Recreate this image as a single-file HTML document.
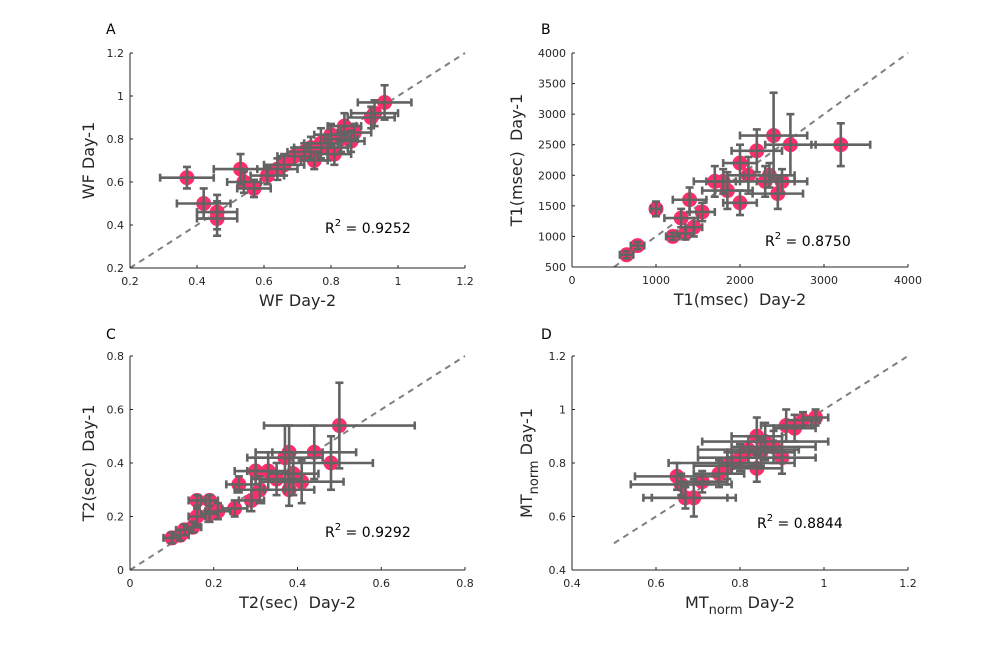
<!DOCTYPE html>
<html><head><meta charset="utf-8">
<style>
body{margin:0;background:#fff;}
svg{font-family:"DejaVu Sans","Liberation Sans",sans-serif;}
</style></head>
<body>
<svg id="fig" width="1003" height="640" viewBox="0 0 1003 640"></svg>
<script>
// Panel A data
const aX=[0.37,0.42,0.46,0.46,0.53,0.54,0.57,0.61,0.64,0.66,0.69,0.72,0.74,0.75,0.77,0.79,0.80,0.81,0.83,0.84,0.86,0.87,0.92,0.93,0.96];
const aY=[0.62,0.50,0.46,0.43,0.66,0.60,0.57,0.63,0.66,0.68,0.72,0.74,0.76,0.70,0.78,0.76,0.82,0.73,0.80,0.86,0.79,0.83,0.90,0.92,0.97];
const aXe=[0.08,0.08,0.06,0.06,0.08,0.05,0.05,0.05,0.06,0.06,0.05,0.05,0.05,0.04,0.05,0.06,0.05,0.05,0.05,0.05,0.04,0.05,0.07,0.07,0.08];
const aYe=[0.05,0.07,0.08,0.08,0.07,0.05,0.04,0.04,0.05,0.05,0.04,0.04,0.05,0.04,0.07,0.06,0.05,0.05,0.06,0.06,0.05,0.04,0.05,0.06,0.08];
// Panel B data
const bX=[650,780,1000,1200,1350,1450,1300,1400,1550,1700,1850,2000,2100,2200,2300,2350,2450,2500,2400,2600,3200,1800,2000];
const bY=[700,850,1450,1000,1050,1150,1300,1600,1400,1900,1750,1550,2000,2400,1900,2000,1700,1900,2650,2500,2500,1900,2200];
const bXe=[80,80,60,80,100,100,200,200,150,250,300,200,250,300,350,300,300,300,400,300,350,200,200];
const bYe=[60,60,120,60,100,150,150,200,150,250,300,200,300,350,250,200,250,200,700,500,350,200,300];
// Panel C data
const cX=[0.10,0.12,0.13,0.15,0.16,0.16,0.19,0.19,0.21,0.25,0.26,0.29,0.30,0.31,0.33,0.35,0.37,0.38,0.38,0.39,0.44,0.48,0.50,0.41];
const cY=[0.12,0.13,0.15,0.16,0.20,0.26,0.26,0.21,0.22,0.23,0.32,0.26,0.37,0.30,0.37,0.34,0.42,0.44,0.30,0.36,0.44,0.40,0.54,0.33];
const cXe=[0.02,0.02,0.02,0.02,0.02,0.02,0.02,0.02,0.03,0.03,0.03,0.03,0.05,0.06,0.05,0.06,0.09,0.08,0.06,0.06,0.10,0.10,0.18,0.10];
const cYe=[0.02,0.02,0.02,0.02,0.03,0.02,0.02,0.03,0.03,0.03,0.03,0.04,0.05,0.05,0.07,0.06,0.12,0.10,0.06,0.08,0.10,0.10,0.16,0.08];
// Panel D data
const dX=[0.65,0.67,0.66,0.69,0.71,0.75,0.77,0.80,0.82,0.84,0.84,0.85,0.88,0.90,0.91,0.93,0.95,0.98,0.86,0.78];
const dY=[0.75,0.67,0.72,0.67,0.73,0.76,0.79,0.82,0.85,0.90,0.78,0.84,0.86,0.82,0.94,0.93,0.96,0.97,0.88,0.80];
const dXe=[0.10,0.10,0.12,0.10,0.06,0.06,0.08,0.10,0.12,0.06,0.06,0.08,0.10,0.08,0.06,0.05,0.04,0.03,0.15,0.15];
const dYe=[0.05,0.04,0.04,0.07,0.04,0.05,0.05,0.05,0.05,0.07,0.05,0.05,0.06,0.06,0.06,0.05,0.03,0.03,0.07,0.04];
const aTicks=[0.2,0.4,0.6,0.8,1,1.2];
const bXTicks=[0,1000,2000,3000,4000];
const bYTicks=[500,1000,1500,2000,2500,3000,3500,4000];
const cTicks=[0,0.2,0.4,0.6,0.8];
const dTicks=[0.4,0.6,0.8,1,1.2];

const NS="http://www.w3.org/2000/svg";
const svg=document.getElementById('fig');
function mk(tag,attrs,parent){const e=document.createElementNS(NS,tag);for(const k in attrs)e.setAttribute(k,attrs[k]);(parent||svg).appendChild(e);return e;}

function panel(p){
  const g=mk('g',{});
  
  
  const sx=v=>p.x0+(v-p.xmin)/(p.xmax-p.xmin)*(p.x1-p.x0);
  const sy=v=>p.y0-(v-p.ymin)/(p.ymax-p.ymin)*(p.y0-p.y1);
  const il=mk('line',{x1:sx(p.l0),y1:sy(p.l0),x2:sx(p.l1),y2:sy(p.l1),stroke:'#808080','stroke-width':2,'stroke-dasharray':'6,5'},g);
  
  
  for(let i=0;i<p.X.length;i++){
    const c=mk('circle',{cx:sx(p.X[i]),cy:sy(p.Y[i]),r:7.5,fill:'#ff2d6a'},g);
    
    
  }
  for(let i=0;i<p.X.length;i++){
    const eb=mk('g',{stroke:'#636363','stroke-width':2.6,fill:'none'},g);
    
    
    const x=sx(p.X[i]),y=sy(p.Y[i]);
    const xa=sx(p.X[i]-p.XE[i]),xb=sx(p.X[i]+p.XE[i]);
    const ya=sy(p.Y[i]-p.YE[i]),yb=sy(p.Y[i]+p.YE[i]);
    mk('line',{x1:xa,y1:y,x2:xb,y2:y},eb);
    mk('line',{x1:xa,y1:y-4,x2:xa,y2:y+4},eb);
    mk('line',{x1:xb,y1:y-4,x2:xb,y2:y+4},eb);
    mk('line',{x1:x,y1:ya,x2:x,y2:yb},eb);
    mk('line',{x1:x-4,y1:ya,x2:x+4,y2:ya},eb);
    mk('line',{x1:x-4,y1:yb,x2:x+4,y2:yb},eb);
  }
  const ax=mk('line',{x1:p.x0,y1:p.y0,x2:p.x1,y2:p.y0,stroke:'#262626','stroke-width':1},g);
  
  
  const ay=mk('line',{x1:p.x0,y1:p.y0,x2:p.x0,y2:p.y1,stroke:'#262626','stroke-width':1},g);
  
  
  p.xt.forEach(v=>{
    mk('line',{x1:sx(v),y1:p.y0,x2:sx(v),y2:p.y0-3,stroke:'#262626'},g);
    const t=mk('text',{x:sx(v),y:p.y0+17,'font-size':11,'text-anchor':'middle',fill:'#262626'},g);
    t.textContent=v;
    
    
  });
  p.yt.forEach(v=>{
    mk('line',{x1:p.x0,y1:sy(v),x2:p.x0+3,y2:sy(v),stroke:'#262626'},g);
    const t=mk('text',{x:p.x0-6,y:sy(v)+4,'font-size':11,'text-anchor':'end',fill:'#262626'},g);
    t.textContent=v;
    
    
  });
  const xl=mk('text',{x:(p.x0+p.x1)/2,y:p.y0+38,'font-size':16,'text-anchor':'middle',fill:'#262626'},g);
  xl.innerHTML=p.xlab;
  
  
  const yl=mk('text',{x:0,y:0,'font-size':16,'text-anchor':'middle',fill:'#262626',transform:`translate(${p.ylx},${(p.y0+p.y1)/2}) rotate(-90)`},g);
  yl.innerHTML=p.ylab;
  
  
  const r=mk('text',{x:p.rx,y:p.ry,'font-size':14,fill:'#000'},g);
  r.innerHTML='R<tspan dy="-7" font-size="10">2</tspan><tspan dy="7"> = '+p.r2+'</tspan>';
  
  
  const pl=mk('text',{x:p.lx,y:p.ly,'font-size':14,fill:'#000'},g);
  pl.textContent=p.id;
  
  
}
panel({id:'A',X:aX,Y:aY,XE:aXe,YE:aYe,xmin:0.2,xmax:1.2,ymin:0.2,ymax:1.2,x0:130,x1:465,y0:268,y1:53,l0:0.2,l1:1.2,xt:aTicks,yt:aTicks,
  xlab:'WF Day-2',ylab:'WF Day-1',ylx:94,rx:325,ry:233,r2:'0.9252',lx:106,ly:34});
panel({id:'B',X:bX,Y:bY,XE:bXe,YE:bYe,xmin:0,xmax:4000,ymin:500,ymax:4000,x0:572,x1:908,y0:267,y1:53,l0:500,l1:4000,xt:bXTicks,yt:bYTicks,
  xlab:'T1(msec)&#160; Day-2',ylab:'T1(msec)&#160; Day-1',ylx:522,rx:765,ry:246,r2:'0.8750',lx:541,ly:34});
panel({id:'C',X:cX,Y:cY,XE:cXe,YE:cYe,xmin:0,xmax:0.8,ymin:0,ymax:0.8,x0:130,x1:465,y0:570,y1:356,l0:0,l1:0.8,xt:cTicks,yt:cTicks,
  xlab:'T2(sec)&#160; Day-2',ylab:'T2(sec)&#160; Day-1',ylx:94,rx:325,ry:537,r2:'0.9292',lx:106,ly:339});
panel({id:'D',X:dX,Y:dY,XE:dXe,YE:dYe,xmin:0.4,xmax:1.2,ymin:0.4,ymax:1.2,x0:572,x1:908,y0:570,y1:356,l0:0.5,l1:1.2,xt:dTicks,yt:dTicks,
  xlab:'MT<tspan dy="6" font-size="13">norm</tspan><tspan dy="-6"> Day-2</tspan>',ylab:'MT<tspan dy="6" font-size="13">norm</tspan><tspan dy="-6"> Day-1</tspan>',ylx:532,rx:757,ry:528,r2:'0.8844',lx:541,ly:339});
</script>
</body></html>
